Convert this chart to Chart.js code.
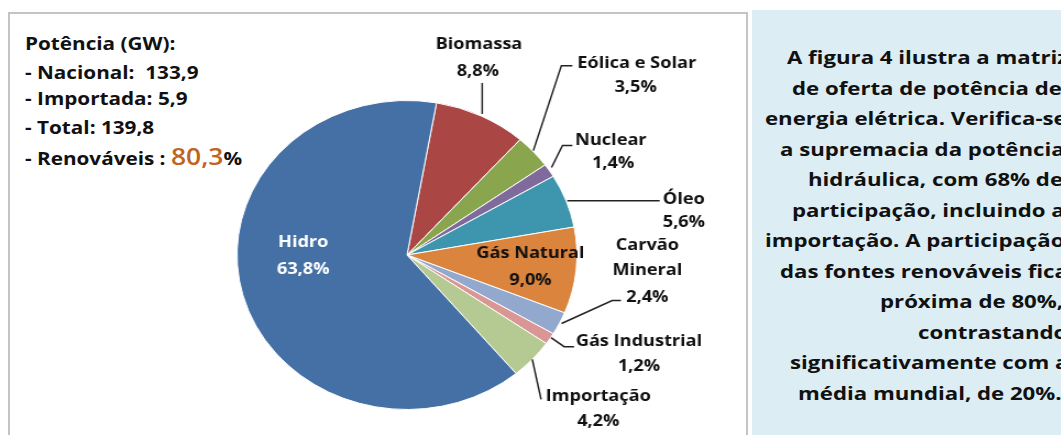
<!DOCTYPE html>
<html>
<head>
<meta charset="utf-8">
<script src="https://cdn.jsdelivr.net/npm/chart.js@4/dist/chart.umd.min.js"></script>
<style>
  body { margin: 0; background: #fff; width: 1061px; height: 435px; overflow: hidden; position: relative; font-family: 'Open Sans', sans-serif; }
  #box { position: absolute; left: 8px; top: 12px; width: 736px; height: 440px; border: 2px solid #c4c4c4; border-bottom: none; background: #fff; }
  /* a figura original é esticada na horizontal */
  #chart { position: absolute; left: 0; top: 0; transform: scaleX(1.1); transform-origin: 0 0; }
  .info { position: absolute; left: 25px; font-weight: 700; font-size: 18px; line-height: 20px; color: #111; white-space: nowrap; transform: scaleX(1.15); transform-origin: 0 50%; }
  .big { color: #c0651f; font-size: 23px; font-weight: 600; }
  #panel { position: absolute; left: 752px; top: 10px; width: 320px; height: 430px; background: #dcedf3; overflow: hidden; }
  .ln { position: absolute; font-weight: 700; font-size: 18.5px; line-height: 20px; color: #111; white-space: nowrap; transform: scaleX(1.2); transform-origin: 0 50%; }
</style>
</head>
<body>
<div id="box"></div>
<div class="info" style="top:33px">Potência (GW):</div>
<div class="info" style="top:62px">- Nacional:&nbsp; 133,9</div>
<div class="info" style="top:88px">- Importada: 5,9</div>
<div class="info" style="top:117px">- Total: 139,8</div>
<div class="info" style="top:146px">- Renováveis : <span class="big">80,3</span>%</div>
<canvas id="chart" width="682" height="435"></canvas>
<div id="panel"></div>
<script>
// fatias da matriz de potência (%), sentido horário a partir do topo
const categories = ['Biomassa', 'Eólica e Solar', 'Nuclear', 'Óleo', 'Gás Natural', 'Carvão Mineral', 'Gás Industrial', 'Importação', 'Hidro']
const shares = [8.8, 3.5, 1.4, 5.6, 9.0, 2.4, 1.2, 4.2, 63.8]
const colors = ['#aa4643', '#89a54e', '#80699b', '#3d96ae', '#db843d', '#92a8cd', '#d99694', '#b5ca92', '#4470a6']

const panelLines = [
  'A figura 4 ilustra a matriz',
  'de oferta de potência de',
  'energia elétrica. Verifica-se',
  'a supremacia da potência',
  'hidráulica, com 68% de',
  'participação, incluindo a',
  'importação. A participação',
  'das fontes renováveis fica',
  'próxima de 80%,',
  'contrastando',
  'significativamente com a',
  'média mundial, de 20%.',
]
const panelStarts = [35, 40, 13, 28, 56, 40, 13, 28, 128, 166, 38, 46]

const panel = document.getElementById('panel')
panelLines.forEach((t, i) => {
  const d = document.createElement('div')
  d.className = 'ln'
  d.textContent = t
  d.style.left = panelStarts[i] + 'px'
  d.style.top = (37 + i * 30.5) + 'px'
  panel.appendChild(d)
})

// posição dos rótulos relativa ao ponto da borda da fatia
const labelLayout = [
  { name: [[-2, -72]], pct: [-3, -45], leader: [[1, -2], [1, -33]] },
  { name: [[94, -88]], pct: [93, -64], leader: [[0, -1], [25.5, -86], [35.5, -86]] },
  { name: [[56, -30]], pct: [58, -7], leader: [[2, -3], [12, -25], [21, -25]] },
  { name: [[107, -1]], pct: [107, 22], leader: [[1, 0], [85, 0]] },
  { inside: 0.73, name: [[0, -13.5]], pct: [0, 13.5] },
  { name: [[80, -78], [80, -53]], pct: [80, -26], leader: [[2, 0], [48, -23], [56, -23]] },
  { name: [[81, 3]], pct: [81, 28], leader: [[1, -1], [13, 8], [22, 8]] },
  { name: [[60, 37]], pct: [60, 62], leader: [[0, 0], [8, 40]] },
  { inside: 0.632, name: [[0, -37.5]], pct: [0, -10.5], color: '#ffffff' },
]

const fmt = (v) => v.toFixed(1).replace('.', ',') + '%'

const sliceLabels = {
  id: 'sliceLabels',
  afterDatasetsDraw(chart) {
    const ctx = chart.ctx
    const arcs = chart.getDatasetMeta(0).data
    ctx.save()
    ctx.font = "bold 16.5px 'Open Sans'"
    ctx.textAlign = 'center'
    ctx.textBaseline = 'middle'
    arcs.forEach((arc, i) => {
      const lay = labelLayout[i]
      const mid = (arc.startAngle + arc.endAngle) / 2
      const r = arc.outerRadius * (lay.inside || 1)
      const ax = arc.x + Math.cos(mid) * r
      const ay = arc.y + Math.sin(mid) * r
      if (lay.leader) {
        ctx.strokeStyle = '#222'
        ctx.lineWidth = 1.5
        ctx.beginPath()
        lay.leader.forEach(([dx, dy], k) => {
          if (k === 0) ctx.moveTo(ax + dx, ay + dy)
          else ctx.lineTo(ax + dx, ay + dy)
        })
        ctx.stroke()
      }
      ctx.fillStyle = lay.color || '#111'
      const words = lay.name.length > 1 ? categories[i].split(' ') : [categories[i]]
      lay.name.forEach(([dx, dy], k) => ctx.fillText(words[k], ax + dx, ay + dy))
      ctx.fillText(fmt(shares[i]), ax + lay.pct[0], ay + lay.pct[1])
    })
    ctx.restore()
  },
}

new Chart(document.getElementById('chart'), {
  type: 'pie',
  data: {
    labels: categories,
    datasets: [
      {
        data: shares,
        backgroundColor: colors,
        borderColor: '#ffffff',
        borderWidth: 1,
      },
    ],
  },
  options: {
    responsive: false,
    animation: false,
    rotation: 10,
    layout: { padding: { left: 215, right: 157, top: 100, bottom: 25 } },
    plugins: {
      legend: { display: false },
      tooltip: { enabled: false },
    },
  },
  plugins: [sliceLabels],
})
</script>
</body>
</html>
